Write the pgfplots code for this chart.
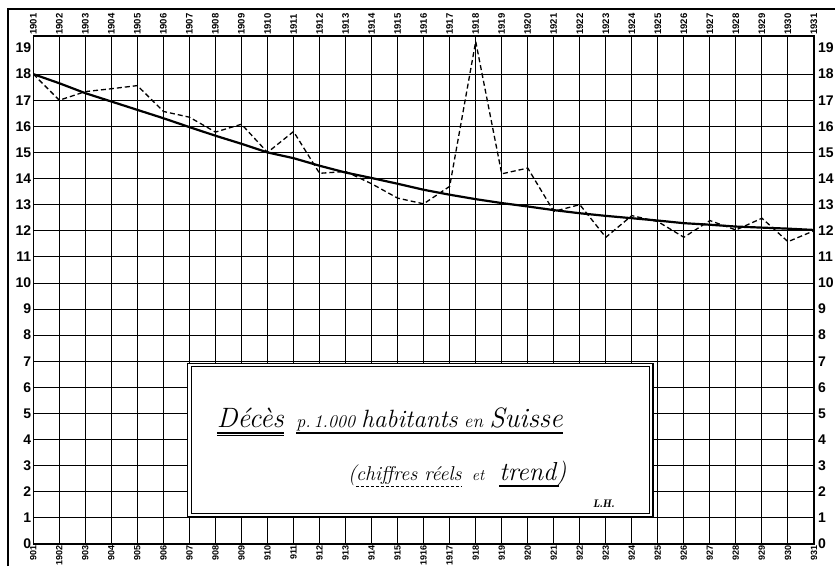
\documentclass[border=0pt]{standalone}
\usepackage{fontspec}
\setmainfont{Liberation Sans}
\usepackage{pgfplots}
\pgfplotsset{compat=1.18}
\usepackage{pgfplotstable}

\pgfplotstableread{
year actual trend
1901 18.00 18.00
1902 17.00 17.65
1903 17.33 17.27
1904 17.44 16.95
1905 17.56 16.63
1906 16.57 16.31
1907 16.35 15.97
1908 15.78 15.64
1909 16.08 15.33
1910 15.00 15.00
1911 15.80 14.78
1912 14.20 14.49
1913 14.27 14.23
1914 13.80 14.02
1915 13.25 13.80
1916 13.03 13.57
1917 13.70 13.38
1918 19.25 13.21
1919 14.18 13.06
1920 14.40 12.93
1921 12.74 12.79
1922 13.00 12.67
1923 11.75 12.57
1924 12.58 12.48
1925 12.35 12.39
1926 11.75 12.29
1927 12.39 12.23
1928 12.03 12.16
1929 12.48 12.12
1930 11.58 12.08
1931 12.00 12.03
}\deathdata

\newcommand{\hand}{\fontfamily{lmr}\itshape}

\begin{document}
\begin{tikzpicture}
\begin{axis}[
  name=main,
  scale only axis, width=780.7pt, height=508pt,
  xmin=1901, xmax=1931, ymin=0, ymax=19.46,
  xtick={1901,...,1931},
  xticklabels={901,1902,903,904,905,906,907,908,909,910,911,912,913,914,915,1916,1917,918,919,920,921,922,923,924,925,926,927,928,929,930,931},
  ytick={0,...,18},
  yticklabels={0,1,2,3,4,5,6,7,8,9,10,11,12,13,14,15,16,17,18},
  extra y ticks={19}, extra y tick labels={19},
  extra y tick style={grid=none},
  xmajorgrids, ymajorgrids,
  major grid style={black, line width=0.9pt},
  axis line style={black, line width=1.5pt},
  major tick length=0pt,
  yticklabel style={font=\bfseries\fontsize{14}{14}\selectfont, inner sep=1pt, xshift=-1pt},
  xticklabel style={rotate=90, anchor=east, inner sep=1pt, font=\bfseries\fontsize{9}{9}\selectfont},
]
\addplot[black, line width=1.3pt, dash pattern=on 5pt off 3pt] table[x=year, y=actual] {\deathdata};
\addplot[black, line width=2.2pt] table[x=year, y=trend] {\deathdata};

% title box
\fill[white] (axis cs:1906.93,1.05) rectangle (axis cs:1924.82,6.92);
\draw[line width=1.6pt] (axis cs:1906.93,1.05) rectangle (axis cs:1924.82,6.92);
\draw[line width=0.8pt] (axis cs:1907.07,1.18) rectangle (axis cs:1924.68,6.79);

\node[anchor=base west, inner sep=0pt] (d1) at (axis cs:1908.05,4.48)
  {\hand\fontsize{28}{32}\selectfont Décès};
\node[anchor=base west, inner sep=0pt] (d2) at (axis cs:1911.1,4.48)
  {\hand\fontsize{18}{22}\selectfont p.\,1.000 {\fontsize{25}{29}\selectfont habitants} {\fontsize{19}{22}\selectfont en} {\fontsize{28}{32}\selectfont Suisse}};
\node[anchor=base west, inner sep=0pt] (p1) at (axis cs:1913.09,2.45)
  {\hand\fontsize{21}{24}\selectfont (};
\node[anchor=base west, inner sep=0pt] (c1) at (axis cs:1913.40,2.45)
  {\hand\fontsize{20}{24}\selectfont chiffres réels};
\node[anchor=base west, inner sep=0pt] (e1) at (axis cs:1917.85,2.45)
  {\hand\fontsize{16}{20}\selectfont et};
\node[anchor=base west, inner sep=0pt] (t1) at (axis cs:1918.9,2.45)
  {\hand\fontsize{26}{30}\selectfont trend)};
\node[anchor=base west, inner sep=0pt] at (axis cs:1922.5,1.38)
  {\hand\bfseries\fontsize{11}{12}\selectfont L.H.};
\end{axis}

% underlines
\draw[line width=1.2pt] ([yshift=-6pt]d1.base west) -- ([yshift=-6pt]d1.base east);
\draw[line width=0.7pt] ([yshift=-8.5pt]d1.base west) -- ([yshift=-8.5pt]d1.base east);
\draw[line width=1.2pt] ([yshift=-6pt]d2.base west) -- ([yshift=-6pt]d2.base east);
\draw[line width=0.9pt, dash pattern=on 3pt off 2pt] ([yshift=-6pt]c1.base west) -- ([yshift=-6pt]c1.base east);
\draw[line width=1.2pt] ([yshift=-6pt]t1.base west) -- ([yshift=-6pt,xshift=-8pt]t1.base east);

\begin{axis}[
  scale only axis, width=780.7pt, height=508pt,
  xmin=1901, xmax=1931, ymin=0, ymax=19.46,
  xticklabel pos=upper, yticklabel pos=upper,
  xtick={1901,...,1931},
  xticklabels={1901,1902,1903,1904,1905,1906,1907,1908,1909,1910,1911,1912,1913,1914,1915,1916,1917,1918,1919,1920,1921,1922,1923,1924,1925,1926,1927,1928,1929,1930,1931},
  ytick={0,...,19},
  yticklabels={0,1,2,3,4,5,6,7,8,9,10,11,12,13,14,15,16,17,18,19},
  axis line style={draw=none},
  major tick length=0pt,
  yticklabel style={font=\bfseries\fontsize{14}{14}\selectfont, inner sep=1pt, xshift=3pt},
  xticklabel style={rotate=90, anchor=west, inner sep=1pt, font=\bfseries\fontsize{9.5}{9.5}\selectfont},
]
\end{axis}

\draw[line width=1.2pt] ([shift={(-25.3pt,-22pt)}]main.south west) -- ([shift={(-25.3pt,535pt)}]main.south west) -- ([shift={(801.7pt,535pt)}]main.south west);

\pgfresetboundingbox
\path ([shift={(-33.3pt,-22pt)}]main.south west) rectangle ([shift={(801.7pt,544pt)}]main.south west);
\end{tikzpicture}
\end{document}
